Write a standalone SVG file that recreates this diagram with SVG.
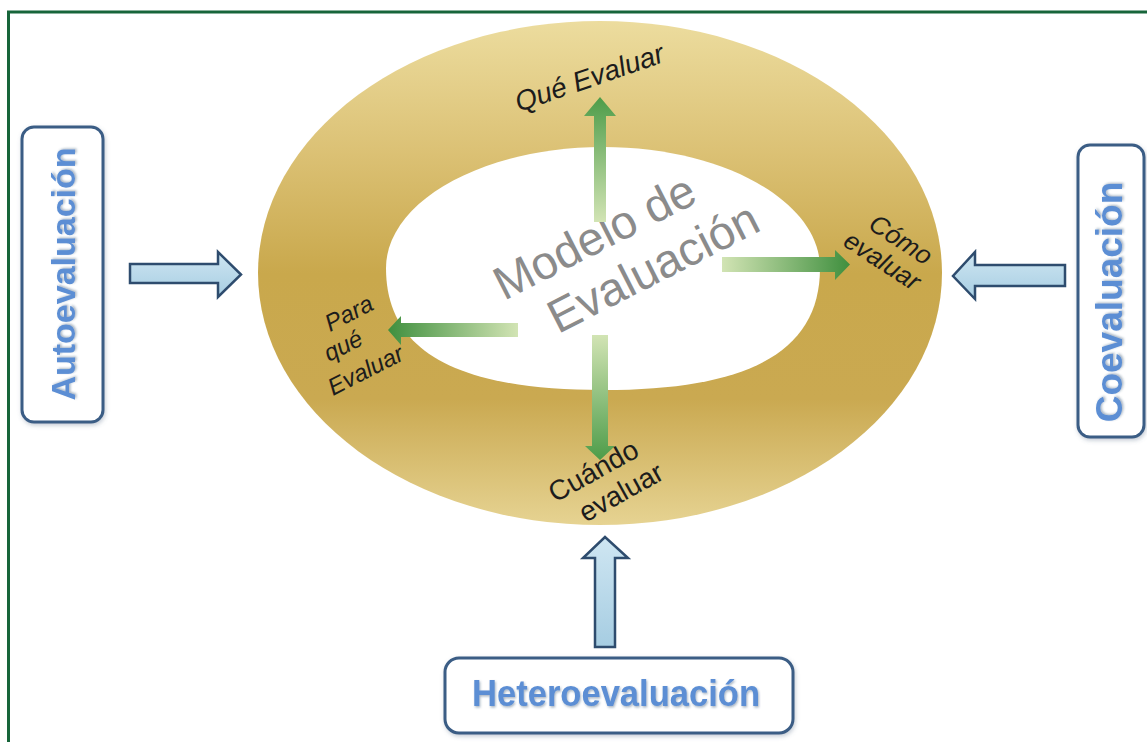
<svg xmlns="http://www.w3.org/2000/svg" width="1147" height="742" viewBox="0 0 1147 742">
<style>
.box{fill:#ffffff;stroke:#3b5d85;stroke-width:3;filter:url(#boxsh)}
.btxt{font-family:"Liberation Sans",Arial,sans-serif;font-weight:bold;fill:#5b8ed4;filter:url(#txtsh)}
.barrow{fill:url(#blueg);stroke:#2e4c6e;stroke-width:2.5;stroke-linejoin:miter}
.lbl{font-family:"Liberation Sans",Arial,sans-serif;fill:#1c1c1c}
.it{font-style:italic}
.center{font-family:"Liberation Sans",Arial,sans-serif;fill:#8b8b8b;font-size:47px}
</style>
<defs>
<linearGradient id="gold" x1="0" y1="22" x2="0" y2="525" gradientUnits="userSpaceOnUse">
<stop offset="0" stop-color="#ecdc9e"/>
<stop offset="0.25" stop-color="#dcc276"/>
<stop offset="0.5" stop-color="#c9a84c"/>
<stop offset="0.75" stop-color="#caa951"/>
<stop offset="1" stop-color="#e6d392"/>
</linearGradient>
<linearGradient id="blueg" x1="0" y1="0" x2="0" y2="1">
<stop offset="0" stop-color="#cfe6f2"/>
<stop offset="1" stop-color="#a6cde2"/>
</linearGradient>
<linearGradient id="gUp" x1="0" y1="1" x2="0" y2="0">
<stop offset="0" stop-color="#d2e4b4"/>
<stop offset="1" stop-color="#4d9c49"/>
</linearGradient>
<linearGradient id="gDown" x1="0" y1="0" x2="0" y2="1">
<stop offset="0" stop-color="#d2e4b4"/>
<stop offset="1" stop-color="#4d9c49"/>
</linearGradient>
<linearGradient id="gLeft" x1="1" y1="0" x2="0" y2="0">
<stop offset="0" stop-color="#d2e4b4"/>
<stop offset="1" stop-color="#3f8f3e"/>
</linearGradient>
<linearGradient id="gRight" x1="0" y1="0" x2="1" y2="0">
<stop offset="0" stop-color="#d2e4b4"/>
<stop offset="1" stop-color="#3f8f3e"/>
</linearGradient>
<filter id="boxsh" x="-20%" y="-20%" width="140%" height="140%">
<feDropShadow dx="1" dy="2" stdDeviation="2" flood-color="#5b6f88" flood-opacity="0.35"/>
</filter>
<filter id="txtsh" x="-10%" y="-20%" width="120%" height="140%">
<feDropShadow dx="1" dy="1.5" stdDeviation="1" flood-color="#2a4466" flood-opacity="0.4"/>
</filter>
</defs>

<rect width="1147" height="742" fill="#ffffff"/>
<path d="M8.5,742 V12 H1147" fill="none" stroke="#17653a" stroke-width="3"/>

<g id="ring">
<ellipse cx="600" cy="273" rx="342" ry="252" fill="url(#gold)"/>
<path d="M386,268 C386,201.2 483.2,147 603,147 C722.8,147 820,201.2 820,268 C820,351 750.6,390 603,390 C455.4,390 386,351 386,268 Z" fill="#ffffff"/>
</g>

<g id="center-title">
<g transform="translate(504,301) rotate(-27)">
<text class="center" x="0" y="0">Modelo de</text>
<text class="center" x="33" y="54">Evaluación</text>
</g>
</g>

<g id="connectors">
<path d="M594,222 V116 H584 L600,97 L616,116 H606 V222 Z" fill="url(#gUp)"/>
<path d="M592,335 V446 H585 L600,460 L615,446 H608 V335 Z" fill="url(#gDown)"/>
<path d="M518,323 H401 V316 L388,330 L401,345 V337 H518 Z" fill="url(#gLeft)"/>
<path d="M722,257 H835 V250 L850,264.5 L835,280 V272 H722 Z" fill="url(#gRight)"/>
<path class="barrow" d="M130,264 H218 V252 L241,274.5 L218,297 V283 H130 Z"/>
<path class="barrow" d="M1065,265 H975 V252 L953,276 L975,299 V286 H1065 Z"/>
<path class="barrow" d="M595,647 V558 H583 L605,537 L628,558 H615 V647 Z"/>
</g>

<g id="label-que">
<text class="lbl it" font-size="28" transform="translate(519,112) rotate(-19)">Qué Evaluar</text>
</g>
<g id="label-para">
<text class="lbl it" font-size="24" transform="translate(330,332) rotate(-27)">Para</text>
<text class="lbl it" font-size="24" transform="translate(329,362) rotate(-27)">qué</text>
<text class="lbl it" font-size="24" transform="translate(333,396) rotate(-27)">Evaluar</text>
</g>
<g id="label-como">
<g transform="translate(867,228) rotate(33)">
<text class="lbl it" font-size="26" x="0" y="0">Cómo</text>
<text class="lbl it" font-size="26" x="-12" y="28">evaluar</text>
</g>
</g>
<g id="label-cuando">
<g transform="translate(555,503) rotate(-29)">
<text class="lbl" font-size="28" x="0" y="0">Cuándo</text>
<text class="lbl" font-size="28" x="17" y="32">evaluar</text>
</g>
</g>

<g id="node-auto">
<rect class="box" x="22" y="127" width="81" height="295" rx="12"/>
<text class="btxt" font-size="34" text-anchor="middle" transform="translate(75,274) rotate(-90)">Autoevaluación</text>
</g>
<g id="node-co">
<rect class="box" x="1078" y="145" width="66" height="292" rx="12"/>
<text class="btxt" font-size="37" text-anchor="middle" transform="translate(1122,302) rotate(-90)">Coevaluación</text>
</g>
<g id="node-hetero">
<rect class="box" x="445" y="658" width="348" height="75" rx="14"/>
<text class="btxt" font-size="36" text-anchor="middle" x="616" y="706" textLength="288" lengthAdjust="spacingAndGlyphs">Heteroevaluación</text>
</g>
</svg>
